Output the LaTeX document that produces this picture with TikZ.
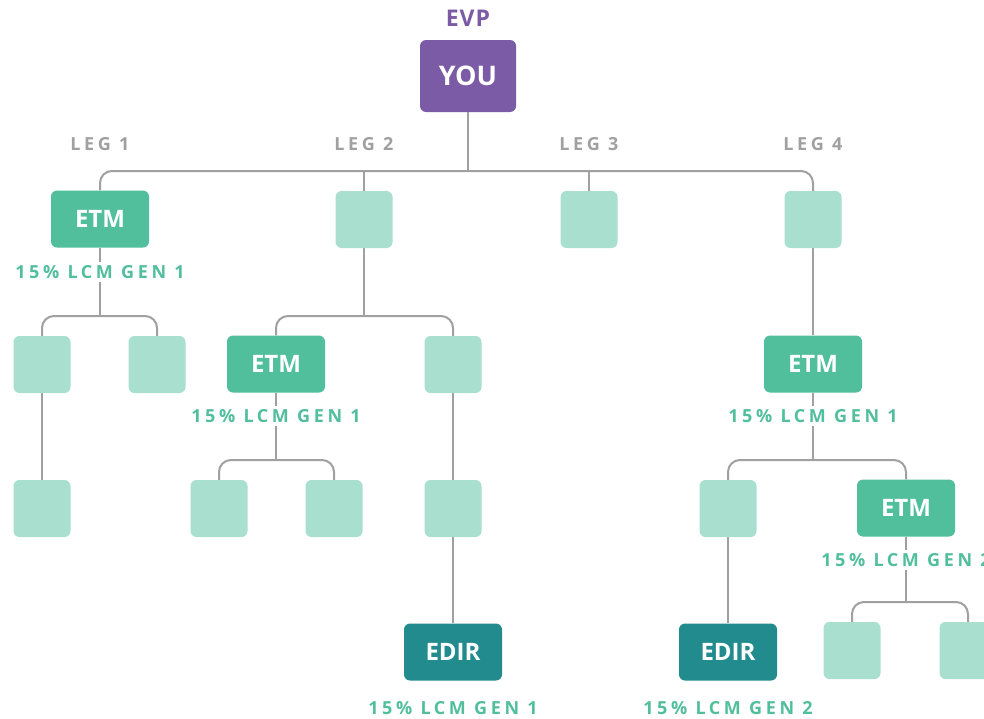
\documentclass[tikz,border=0pt]{standalone}
\usepackage{fontspec}
\setmainfont{Open Sans}
\newfontfamily\spacedfont[LetterSpace=20]{Open Sans}
\newfontfamily\evpfont[LetterSpace=4]{Open Sans}
\usetikzlibrary{backgrounds}
\definecolor{purp}{HTML}{7B5AA6}
\definecolor{etmc}{HTML}{52BF9C}
\definecolor{lite}{HTML}{A8DFCF}
\definecolor{edirc}{HTML}{218B8E}
\definecolor{linec}{HTML}{A0A0A0}
\definecolor{legc}{HTML}{A0A0A0}
\tikzset{
  lbox/.style={fill=lite, rounded corners=6pt, minimum width=57pt, minimum height=57pt, inner sep=0pt},
  etm/.style={fill=etmc, rounded corners=6pt, minimum width=98pt, minimum height=57pt, inner sep=0pt, text=white, font=\bfseries\fontsize{24}{24}\selectfont},
  edir/.style={etm, fill=edirc},
  youbox/.style={fill=purp, rounded corners=6pt, minimum width=96pt, minimum height=72pt, inner sep=0pt, text=white, font=\bfseries\fontsize{27}{27}\selectfont},
  evplbl/.style={text=purp, font=\evpfont\bfseries\fontsize{23}{23}\selectfont},
  lbl/.style={text=etmc, font=\spacedfont\bfseries\fontsize{18}{18}\selectfont, fill=white, inner sep=3pt},
  leg/.style={text=legc, font=\spacedfont\bfseries\fontsize{18}{18}\selectfont},
  conn/.style={draw=linec, line width=2pt, rounded corners=12pt},
}
\begin{document}
\begin{tikzpicture}[x=1pt,y=-1pt]
\useasboundingbox (0,0) rectangle (984,718);
\clip (0,0) rectangle (984,718);
% top
\node[evplbl] (evp) at (468,18) {EVP};
\node[youbox] (you) at (468,76) {YOU};
\node[leg] (leg1) at (100,144) {LEG 1};
\node[leg] (leg2) at (364,144) {LEG 2};
\node[leg] (leg3) at (589,144) {LEG 3};
\node[leg] (leg4) at (813,144) {LEG 4};
% level 1
\node[etm] (a1) at (100,219) {ETM};
\node[lbox] (a2) at (364,219.5) {};
\node[lbox] (a3) at (589,219.5) {};
\node[lbox] (a4) at (813,219.5) {};
\node[lbl] (a1l) at (100,272) {15\% LCM GEN 1};
% leg 1
\node[lbox] (b11) at (42,364.5) {};
\node[lbox] (b12) at (157,364.5) {};
\node[lbox] (c11) at (42,508.5) {};
% leg 2
\node[etm] (b21) at (276,364) {ETM};
\node[lbl] (b21l) at (276,416) {15\% LCM GEN 1};
\node[lbox] (b22) at (453,364.5) {};
\node[lbox] (c21) at (219,508.5) {};
\node[lbox] (c22) at (334,508.5) {};
\node[lbox] (c23) at (453,508.5) {};
\node[edir] (d21) at (453,652) {EDIR};
\node[lbl] (d21l) at (453,708) {15\% LCM GEN 1};
% leg 4
\node[etm] (b41) at (813,364) {ETM};
\node[lbl] (b41l) at (813,416) {15\% LCM GEN 1};
\node[lbox] (c41) at (728,508.5) {};
\node[etm] (c42) at (906,508) {ETM};
\node[lbl] (c42l) at (906,560) {15\% LCM GEN 2};
\node[edir] (d41) at (728,652) {EDIR};
\node[lbl] (d41l) at (728,708) {15\% LCM GEN 2};
\node[lbox] (d42) at (852,650.5) {};
\node[lbox] (d43) at (968,650.5) {};
% junctions
\coordinate (j0) at (468,171);
\coordinate (j1) at (100,316);
\coordinate (j2) at (364,316);
\coordinate (j3) at (276,460);
\coordinate (j4) at (813,460);
\coordinate (j5) at (906,602);
\begin{pgfonlayer}{background}
\draw[conn] (you.south) -- (j0);
\draw[conn] (a1.north) |- (j0) -| (a4.north);
\draw[conn] (a2.north) -- (a2.north |- j0);
\draw[conn] (a3.north) -- (a3.north |- j0);
\draw[conn] (a1.south) -- (j1);
\draw[conn] (b11.north) |- (j1) -| (b12.north);
\draw[conn] (b11.south) -- (c11.north);
\draw[conn] (a2.south) -- (j2);
\draw[conn] (b21.north) |- (j2) -| (b22.north);
\draw[conn] (b21.south) -- (j3);
\draw[conn] (c21.north) |- (j3) -| (c22.north);
\draw[conn] (b22.south) -- (c23.north);
\draw[conn] (c23.south) -- (d21.north);
\draw[conn] (a4.south) -- (b41.north);
\draw[conn] (b41.south) -- (j4);
\draw[conn] (c41.north) |- (j4) -| (c42.north);
\draw[conn] (c41.south) -- (d41.north);
\draw[conn] (c42.south) -- (j5);
\draw[conn] (d42.north) |- (j5) -| (d43.north);
\end{pgfonlayer}
\end{tikzpicture}
\end{document}
